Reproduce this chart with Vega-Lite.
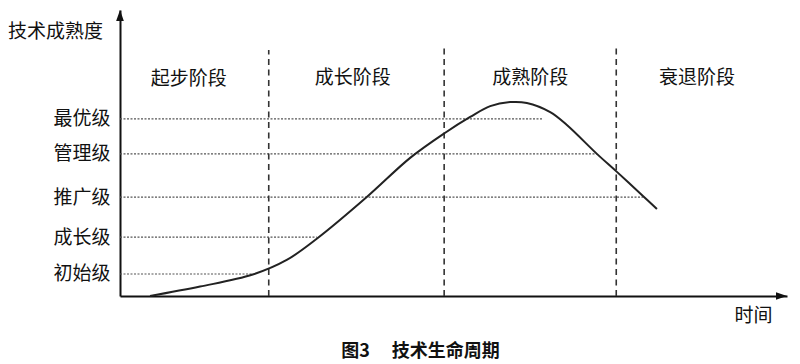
{
  "$schema": "https://vega.github.io/schema/vega-lite/v6.json",
  "width": 667,
  "height": 286,
  "autosize": {"type": "none"},
  "padding": {"left": 120, "top": 10, "right": 13, "bottom": 68},
  "background": "white",
  "config": {
    "view": {"stroke": null},
    "font": "Noto Sans CJK SC",
    "text": {"font": "Noto Sans CJK SC"}
  },
  "title": {
    "text": "图3　 技术生命周期",
    "orient": "bottom",
    "anchor": "middle",
    "dx": -33,
    "offset": 18,
    "fontSize": 18,
    "fontWeight": "bold",
    "font": "Noto Sans CJK SC",
    "color": "#111"
  },
  "encoding": {
    "x": {
      "field": "t",
      "type": "quantitative",
      "scale": {"domain": [0, 100], "nice": false, "zero": false},
      "axis": {
        "orient": "bottom",
        "labels": false,
        "ticks": false,
        "grid": false,
        "domain": true,
        "domainColor": "#111",
        "domainWidth": 2,
        "title": "时间",
        "titleFont": "Noto Sans CJK SC",
        "titleFontSize": 19,
        "titleFontWeight": "normal",
        "titleColor": "#111",
        "titleAlign": "center",
        "titleBaseline": "middle",
        "titleX": 633,
        "titleY": 19
      }
    },
    "y": {
      "field": "m",
      "type": "quantitative",
      "scale": {"domain": [0, 100], "nice": false, "zero": false},
      "axis": {
        "values": [7.7, 20.6, 34.6, 49.7, 61.9],
        "labelExpr": "datum.value < 10 ? '初始级' : datum.value < 25 ? '成长级' : datum.value < 40 ? '推广级' : datum.value < 55 ? '管理级' : '最优级'",
        "ticks": false,
        "grid": false,
        "domain": true,
        "domainColor": "#111",
        "domainWidth": 2,
        "labelPadding": 10,
        "labelFont": "Noto Sans CJK SC",
        "labelFontSize": 19,
        "labelColor": "#111",
        "title": "技术成熟度",
        "titleFont": "Noto Sans CJK SC",
        "titleFontSize": 19,
        "titleFontWeight": "normal",
        "titleColor": "#111",
        "titleAngle": 0,
        "titleAlign": "center",
        "titleBaseline": "middle",
        "titleX": -65,
        "titleY": 21
      }
    }
  },
  "layer": [
    {
      "data": {"values": [
        {"level": "初始级", "t": 0, "t2": 19.9, "m": 7.7},
        {"level": "成长级", "t": 0, "t2": 29.5, "m": 20.6},
        {"level": "推广级", "t": 0, "t2": 78.4, "m": 34.6},
        {"level": "管理级", "t": 0, "t2": 71.5, "m": 49.7},
        {"level": "最优级", "t": 0, "t2": 63.4, "m": 61.9}
      ]},
      "mark": {"type": "rule", "color": "#555", "strokeWidth": 1.2, "strokeDash": [2, 1.5]},
      "encoding": {"x2": {"field": "t2"}}
    },
    {
      "data": {"values": [
        {"t": 22.3, "m": 0, "m2": 86.0},
        {"t": 48.6, "m": 0, "m2": 87.8},
        {"t": 74.4, "m": 0, "m2": 88.1}
      ]},
      "mark": {"type": "rule", "color": "#333", "strokeWidth": 1.6, "strokeDash": [6, 4.5]},
      "encoding": {"y2": {"field": "m2"}}
    },
    {
      "data": {"values": [
        {"t": 4.5, "m": 0},
        {"t": 12.0, "m": 3.3},
        {"t": 19.9, "m": 7.5},
        {"t": 25.0, "m": 12.6},
        {"t": 29.5, "m": 20.0},
        {"t": 37.0, "m": 34.6},
        {"t": 43.5, "m": 48.3},
        {"t": 48.7, "m": 57.0},
        {"t": 52.5, "m": 62.6},
        {"t": 55.5, "m": 66.4},
        {"t": 58.5, "m": 67.8},
        {"t": 61.0, "m": 67.5},
        {"t": 64.5, "m": 64.3},
        {"t": 67.0, "m": 59.8},
        {"t": 71.5, "m": 49.7},
        {"t": 74.5, "m": 43.4},
        {"t": 78.4, "m": 35.0},
        {"t": 80.5, "m": 30.4}
      ]},
      "mark": {"type": "line", "color": "#222", "strokeWidth": 2, "interpolate": "catmull-rom"},
      "encoding": {}
    },
    {
      "data": {"values": [
        {"label": "起步阶段", "t": 10.3, "m": 76.0},
        {"label": "成长阶段", "t": 34.9, "m": 76.2},
        {"label": "成熟阶段", "t": 61.5, "m": 76.2},
        {"label": "衰退阶段", "t": 86.5, "m": 76.2}
      ]},
      "mark": {"type": "text", "fontSize": 19, "color": "#111", "align": "center", "baseline": "middle", "font": "Noto Sans CJK SC"},
      "encoding": {"text": {"field": "label"}}
    },
    {
      "data": {"values": [
        {"dir": "up", "t": 0, "m": 100},
        {"dir": "right", "t": 100, "m": 0}
      ]},
      "mark": {"type": "point", "filled": true, "opacity": 1, "color": "#111", "size": 121},
      "encoding": {
        "shape": {
          "field": "dir",
          "type": "nominal",
          "scale": {"domain": ["up", "right"], "range": ["M0,0L0.7,2L-0.7,2Z", "M0,0L-2,-0.7L-2,0.7Z"]},
          "legend": null
        }
      }
    }
  ]
}
